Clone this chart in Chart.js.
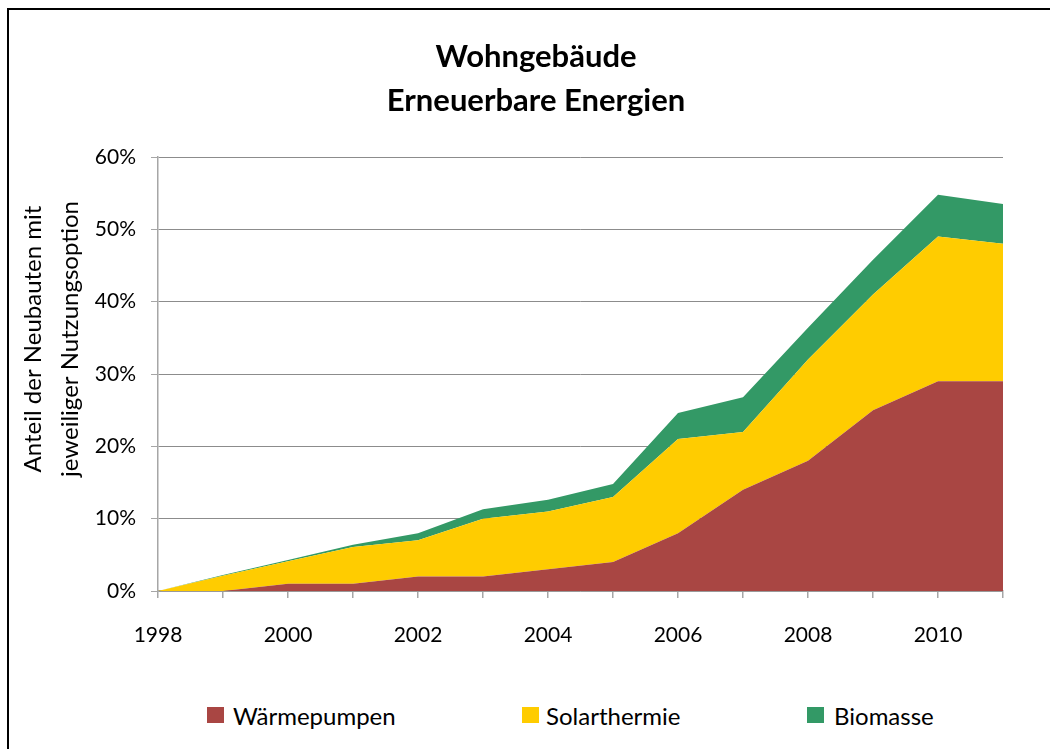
<!DOCTYPE html>
<html>
<head>
<meta charset="utf-8">
<script src="https://cdn.jsdelivr.net/npm/chart.js@4/dist/chart.umd.min.js"></script>
<style>
    body { margin: 0; background: #fff; overflow: hidden; width: 1050px; height: 749px; position: relative; font-family: Lato, sans-serif; }
    #marco { position: absolute; left: 7px; top: 8px; width: 1100px; height: 800px; border-left: 2px solid #000; border-top: 2px solid #000; }
    #lienzo { position: absolute; left: 9px; top: 10px; width: 1019px; height: 641px; }
    .leyenda { position: absolute; top: 704px; height: 24px; font-size: 24px; line-height: 24px; color: #000; white-space: nowrap; }
    .leyenda span { position: absolute; top: 3px; width: 17px; height: 16px; }
    .leyenda b { font-weight: normal; }
</style>
</head>
<body>
<div id="marco"></div>
<div id="lienzo"><canvas id="grafico"></canvas></div>
<div class="leyenda" style="left:207px"><span style="left:0;background:#A94643"></span><b style="margin-left:26px">Wärmepumpen</b></div>
<div class="leyenda" style="left:522px"><span style="left:0;background:#FFCC00"></span><b style="margin-left:24px">Solarthermie</b></div>
<div class="leyenda" style="left:807px"><span style="left:0;background:#339966"></span><b style="margin-left:27px">Biomasse</b></div>
<script>
const anios = ['1998', '1999', '2000', '2001', '2002', '2003', '2004', '2005', '2006', '2007', '2008', '2009', '2010', '2011']

// Anteil in Prozent, je Schicht (gestapelt)
const waermepumpen = [0, 0, 1, 1, 2, 2, 3, 4, 8, 14, 18, 25, 29, 29]
const solarthermie = [0, 2.1, 3.1, 5.1, 5, 8, 8, 9, 13, 8, 14, 16, 20, 19]
const biomasse = [0, 0.1, 0.2, 0.3, 1, 1.3, 1.6, 1.8, 3.6, 4.8, 4.4, 4.8, 5.8, 5.5]

const tituloEje = ['Anteil der Neubauten mit', 'jeweiliger Nutzungsoption']

const fuente = 'Lato'

const tituloY = {
    id: 'tituloY',
    afterDraw(chart) {
        const ctx = chart.ctx
        ctx.save()
        ctx.fillStyle = '#000'
        ctx.font = `24px ${fuente}`
        ctx.textAlign = 'center'
        ctx.textBaseline = 'middle'
        ctx.translate(0, 329)
        ctx.rotate(-Math.PI / 2)
        ctx.fillText(tituloEje[0], 0, 24)
        ctx.fillText(tituloEje[1], 0, 61)
        ctx.restore()
    }
}

const capa = (label, data, color, fill) => ({
    label,
    data,
    fill,
    backgroundColor: color,
    borderColor: color,
    borderWidth: 0,
    pointRadius: 0,
    tension: 0
})

new Chart(document.getElementById('grafico'), {
    type: 'line',
    data: {
        labels: anios,
        datasets: [
            capa('Wärmepumpen', waermepumpen, '#A94643', 'origin'),
            capa('Solarthermie', solarthermie, '#FFCC00', '-1'),
            capa('Biomasse', biomasse, '#339966', '-1')
        ]
    },
    plugins: [tituloY],
    options: {
        responsive: true,
        maintainAspectRatio: false,
        animation: false,
        layout: { padding: { left: 35, right: 0, top: 0, bottom: 0 } },
        plugins: {
            legend: { display: false },
            tooltip: { enabled: false },
            title: {
                display: true,
                text: ['Wohngebäude', 'Erneuerbare Energien'],
                color: '#000',
                font: { family: fuente, size: 31, weight: 'bold', lineHeight: 1.42 },
                padding: { top: 25, bottom: 34 }
            }
        },
        scales: {
            x: {
                offset: false,
                afterFit: (s) => { s.height = 60 },
                border: { color: '#a6a6a6', width: 1.5 },
                grid: { drawOnChartArea: false, drawTicks: true, tickLength: 7, color: '#a6a6a6', lineWidth: 1.5 },
                ticks: {
                    autoSkip: false,
                    maxRotation: 0,
                    padding: 25,
                    color: '#000',
                    font: { family: fuente, size: 21 },
                    callback: function (v, i) {
                        const a = parseInt(this.getLabelForValue(v))
                        return a % 2 === 0 ? String(a) : ''
                    }
                }
            },
            y: {
                stacked: true,
                min: 0,
                max: 60,
                afterFit: (s) => { s.width = 114 },
                border: { color: '#a6a6a6', width: 1.5 },
                grid: { color: '#8c8c8c', lineWidth: 1, tickLength: 7, tickColor: '#a6a6a6' },
                ticks: {
                    stepSize: 10,
                    padding: 15,
                    color: '#000',
                    font: { family: fuente, size: 21 },
                    callback: (v) => v + '%'
                }
            }
        }
    }
})
</script>
</body>
</html>
